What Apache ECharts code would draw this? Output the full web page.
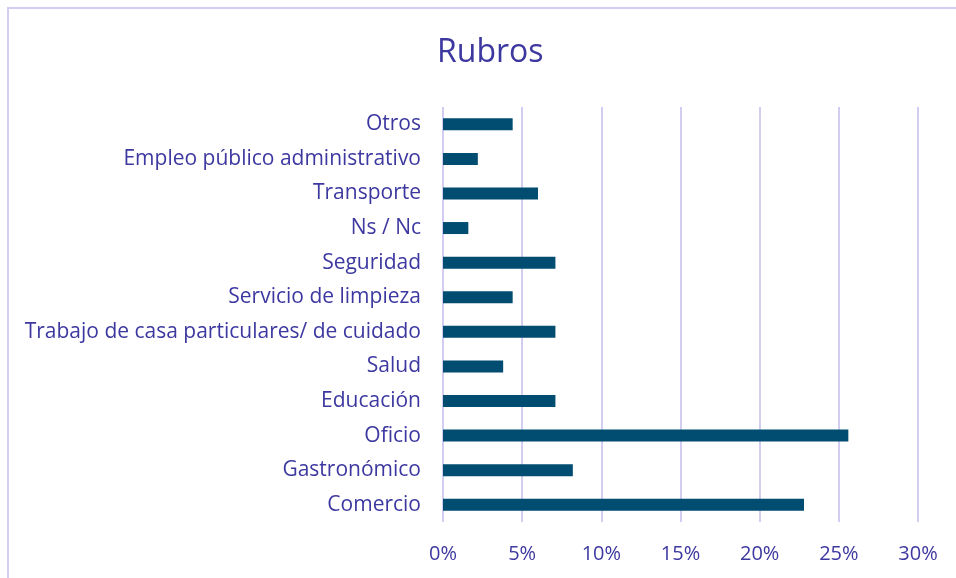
<!DOCTYPE html>
<html>
<head>
<meta charset="utf-8">
<script src="https://cdn.jsdelivr.net/npm/echarts@6/dist/echarts.min.js"></script>
<style>
  html, body { margin: 0; padding: 0; background: #fff; }
  #chart { width: 956px; height: 578px; }
</style>
</head>
<body>
<div id="chart"></div>
<script>
// categorias de abajo hacia arriba (como en el eje del grafico)
var rubros = ['Comercio', 'Gastronómico', 'Oficio', 'Educación', 'Salud',
  'Trabajo de casa particulares/ de cuidado', 'Servicio de limpieza', 'Seguridad',
  'Ns / Nc', 'Transporte', 'Empleo público administrativo', 'Otros']
// porcentajes
var porcentajes = [22.8, 8.2, 25.6, 7.1, 3.8, 7.1, 4.4, 7.1, 1.6, 6.0, 2.2, 4.4]
var ticksX = [0, 5, 10, 15, 20, 25, 30]

var textColor = '#3d38a0'
var font = 'Open Sans'

var myChart = echarts.init(document.getElementById('chart'))
var option = {
  backgroundColor: '#fff',
  animation: false,
  title: {
    text: 'Rubros',
    left: 432,
    top: 32,
    textStyle: { color: textColor, fontFamily: font, fontSize: 32, fontWeight: 'normal' }
  },
  graphic: [
    {
      // marco del grafico (solo se ven los bordes de arriba e izquierda)
      type: 'rect',
      shape: { x: 8, y: 8, width: 1000, height: 620 },
      style: { fill: 'none', stroke: '#d4ccf4', lineWidth: 2 },
      silent: true
    }
  ],
  grid: {
    left: 443,
    right: 38,
    top: 107,
    bottom: 56
  },
  xAxis: {
    type: 'value',
    min: ticksX[0],
    max: ticksX[ticksX.length - 1],
    interval: 5,
    axisLine: { show: false },
    axisTick: { show: false },
    splitLine: { lineStyle: { color: '#d3cdf2', width: 2 } },
    axisLabel: {
      color: textColor,
      fontFamily: font,
      fontSize: 20,
      margin: 22,
      formatter: '{value}%'
    }
  },
  yAxis: {
    type: 'category',
    data: rubros,
    axisLine: { show: false },
    axisTick: { show: false },
    axisLabel: {
      color: textColor,
      fontFamily: font,
      fontSize: 21,
      margin: 22
    }
  },
  series: [
    {
      name: 'Rubros',
      type: 'bar',
      data: porcentajes,
      barWidth: 12,
      itemStyle: { color: '#004d71' }
    }
  ]
}
myChart.setOption(option)
</script>
</body>
</html>
